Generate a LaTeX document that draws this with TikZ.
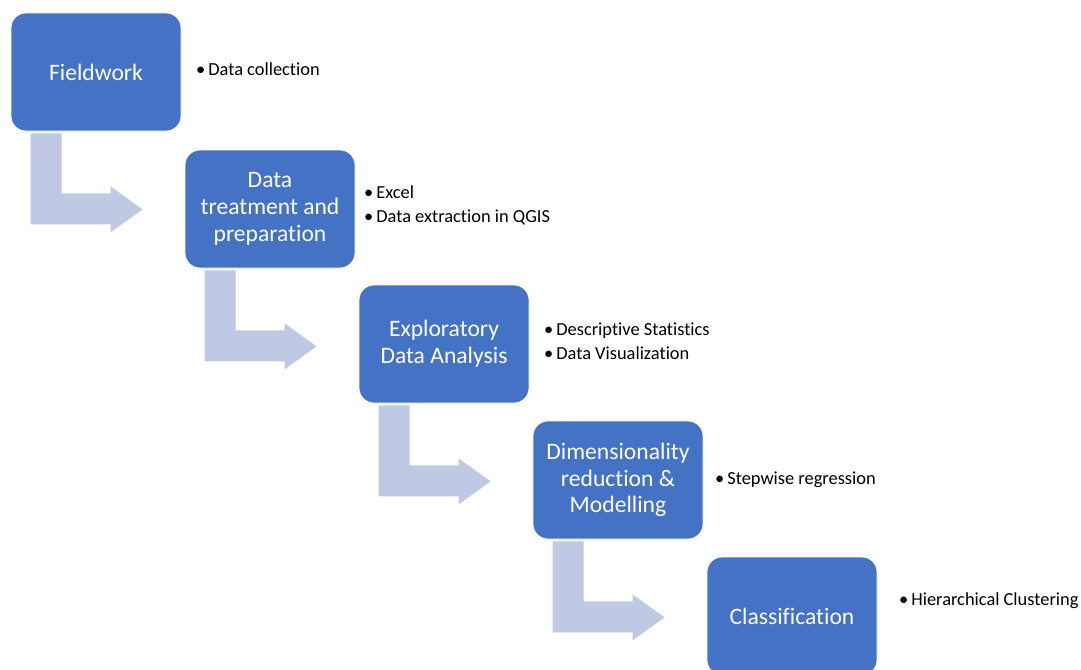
\documentclass[tikz,border=0pt]{standalone}
\usepackage{fontspec}
\setmainfont{Carlito}[Ligatures={NoCommon}]
\definecolor{boxblue}{HTML}{4472C4}
\definecolor{arrowfill}{HTML}{C0C9E4}
\begin{document}
\begin{tikzpicture}[x=1pt,y=-1pt,
  stage/.style={rectangle, rounded corners=15pt, fill=boxblue, draw=white, line width=0.8pt,
    minimum width=170pt, minimum height=118pt, text=white, align=center,
    font=\fontsize{23.6}{26.8}\selectfont, inner sep=0pt},
  note/.style={anchor=west, align=left, font=\fontsize{18.4}{24}\selectfont, inner sep=0pt, text=black},
  bendarrow/.style={fill=arrowfill, draw=none}]
\useasboundingbox (0,0) rectangle (1081,669);
\clip (0,0) rectangle (1081,669);

\node[stage] (b1) at (96,72) {Fieldwork};
\node[stage] (b2) at (270,209) {Data\\treatment and\\preparation};
\node[stage] (b3) at (444,344) {Exploratory\\Data Analysis};
\node[stage] (b4) at (618,480) {Dimensionality\\reduction \&\\Modelling};
\node[stage] (b5) at (792,616) {Classification};

\foreach \b in {b1,b2,b3,b4}{
  \begin{scope}[shift={(\b.south west)}]
    \fill[bendarrow] (20,2) -- (51,2) -- (51,62) -- (100,62) -- (100,55) -- (132,78)
      -- (100,101) -- (100,93) -- (20,93) -- cycle;
  \end{scope}
}

\node[note] (n1) at (196,69) {\textbullet\hspace{3pt}Data collection};
\node[note] (n2) at (364,205) {\textbullet\hspace{3pt}Excel\\\textbullet\hspace{3pt}Data extraction in QGIS};
\node[note] (n3) at (544,341) {\textbullet\hspace{3pt}Descriptive Statistics\\\textbullet\hspace{3pt}Data Visualization};
\node[note] (n4) at (715,480) {\textbullet\hspace{3pt}Stepwise regression};
\node[note] (n5) at (899,601) {\textbullet\hspace{3pt}Hierarchical Clustering};
\end{tikzpicture}
\end{document}
